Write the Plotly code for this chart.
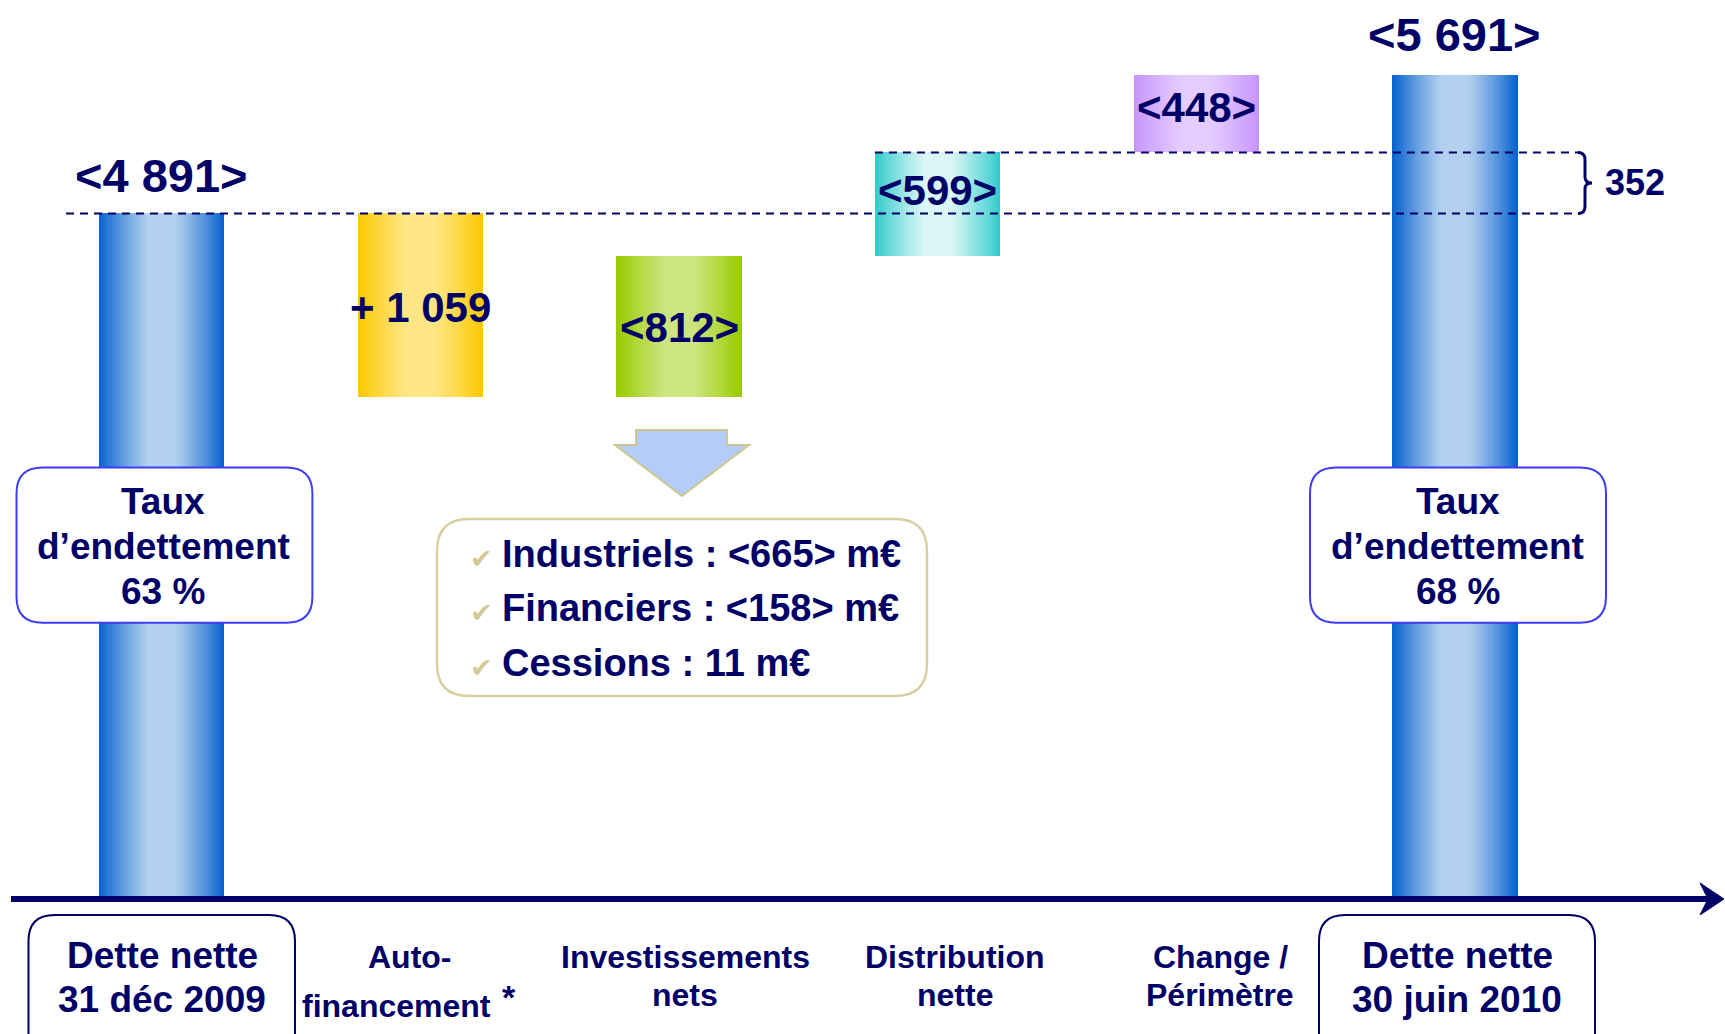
import plotly.graph_objects as go

# ---------------- data ----------------
CATEGORY_LINES = [
    ["Dette nette", "31 déc 2009"],
    ["Auto-", "financement"],
    ["Investissements", "nets"],
    ["Distribution", "nette"],
    ["Change /", "Périmètre"],
    ["Dette nette", "30 juin 2010"],
]
NET_DEBT_OPEN = 4891            # m€, 31 déc 2009
NET_DEBT_CLOSE = 5691           # m€, 30 juin 2010
DEBT_CHANGES = [-1059, 812, 599, 448]   # effect of each step on net debt
GEARING_PCT = [63, 68]
INVEST_ITEMS = ["Industriels", "Financiers", "Cessions"]
INVEST_VALUES = [-665, -158, 11]

# ---------------- derived ----------------
levels = [NET_DEBT_OPEN]
for c in DEBT_CHANGES:
    levels.append(levels[-1] + c)

n = len(CATEGORY_LINES)
X = list(range(n))
bar_base = [0] + [min(levels[i], levels[i + 1]) for i in range(len(DEBT_CHANGES))] + [0]
bar_height = [NET_DEBT_OPEN] + [abs(c) for c in DEBT_CHANGES] + [NET_DEBT_CLOSE]


def thousands(v):
    return f"{v:,}".replace(",", " ")


value_text = ([f"<{thousands(NET_DEBT_OPEN)}>"]
              + [("+ " + thousands(-c)) if c < 0 else f"<{thousands(c)}>" for c in DEBT_CHANGES]
              + [f"<{thousands(NET_DEBT_CLOSE)}>"])

# ---------------- geometry / style ----------------
W, H = 1725, 1034
PLOT_BOTTOM_PX = 897
X_RANGE = [-0.6252, 6.0441]
Y_RANGE = [945, 6123]
BAR_W = 0.485
NAVY = "#000066"
FONT = "Liberation Sans, Arial, sans-serif"

EDGE = ["#0a64cf", "#fdc900", "#99cc00", "#33cccc", "#c796fc", "#0a64cf"]
CENTER = ["#b3d0ef", "#fee685", "#cde581", "#dcf6f6", "#e4ccff", "#b3d0ef"]


def hex2rgb(h):
    h = h.lstrip("#")
    return tuple(int(h[i:i + 2], 16) for i in (0, 2, 4))


def mix(c1, c2, t):
    a, b = hex2rgb(c1), hex2rgb(c2)
    return "rgb(%d,%d,%d)" % tuple(round(a[k] + (b[k] - a[k]) * t) for k in range(3))


def ypx(v):   # data y -> pixel
    return (Y_RANGE[1] - v) / (Y_RANGE[1] - Y_RANGE[0]) * PLOT_BOTTOM_PX


def P(x, y):
    return f"{x / W:.5f},{1 - y / H:.5f}"


def rrect(x0, y0, x1, y1, r):
    return (f"M{P(x0 + r, y0)} L{P(x1 - r, y0)} Q{P(x1, y0)} {P(x1, y0 + r)} "
            f"L{P(x1, y1 - r)} Q{P(x1, y1)} {P(x1 - r, y1)} L{P(x0 + r, y1)} "
            f"Q{P(x0, y1)} {P(x0, y1 - r)} L{P(x0, y0 + r)} Q{P(x0, y0)} {P(x0 + r, y0)} Z")


fig = go.Figure()

# gradient bars : stacked overlay of narrowing bars
NSTEP = 30
for i in range(NSTEP):
    frac = 1 - i / NSTEP
    t = max(0.0, (frac - 0.22) / 0.78) ** 1.15
    colors = [mix(CENTER[j], EDGE[j], t) for j in range(n)]
    fig.add_trace(go.Bar(
        x=X, y=bar_height, base=bar_base, width=BAR_W * frac,
        marker=dict(color=colors, line=dict(width=0), opacity=1),
        hoverinfo="skip", showlegend=False))

shapes = []
ann = []


def text(x, y, s, size, xref="paper", yref="paper", xanchor="center", yanchor="middle",
         color=NAVY, xshift=0, yshift=0, family=FONT):
    ann.append(dict(x=x, y=y, xref=xref, yref=yref, text=s, showarrow=False,
                    xanchor=xanchor, yanchor=yanchor, xshift=xshift, yshift=yshift,
                    font=dict(family=family, size=size, color=color)))


# dashed reference lines
right_px = 1580
shapes.append(dict(type="line", xref="paper", yref="y", x0=66 / W, x1=right_px / W,
                   y0=levels[0], y1=levels[0], layer="above",
                   line=dict(color=NAVY, width=2, dash="8px,6px")))
shapes.append(dict(type="line", xref="x", yref="y", x0=3 - BAR_W / 2,
                   x1=X_RANGE[0] + right_px / W * (X_RANGE[1] - X_RANGE[0]),
                   y0=levels[3], y1=levels[3], layer="above",
                   line=dict(color=NAVY, width=2, dash="8px,6px")))

# brace
yt, yb = ypx(levels[3]), ypx(levels[0])
ym = (yt + yb) / 2
bx = 1578
brace = (f"M{P(bx, yt)} Q{P(bx + 7, yt)} {P(bx + 7, yt + 7)} L{P(bx + 7, ym - 6)} "
         f"Q{P(bx + 7, ym)} {P(bx + 14, ym)} Q{P(bx + 7, ym)} {P(bx + 7, ym + 6)} "
         f"L{P(bx + 7, yb - 7)} Q{P(bx + 7, yb)} {P(bx, yb)}")
shapes.append(dict(type="path", xref="paper", yref="paper", path=brace,
                   line=dict(color=NAVY, width=3), layer="above"))
text(1635 / W, 1 - ym / H, f"<b>{levels[3] - levels[0]}</b>", 36)

# value labels
text(0, NET_DEBT_OPEN, f"<b>{value_text[0]}</b>", 47, xref="x", yref="y", yshift=38)
text(n - 1, NET_DEBT_CLOSE, f"<b>{value_text[-1]}</b>", 47, xref="x", yref="y", yshift=40)
delta_shift = [-2, -1, 14, 6]
for k in range(len(DEBT_CHANGES)):
    i = k + 1
    text(i, bar_base[i] + bar_height[i] / 2, f"<b>{value_text[i]}</b>", 42,
         xref="x", yref="y", yshift=delta_shift[k])

# gearing boxes
for idx, (cx, x0, x1) in zip([0, 1], [(163, 16.5, 312.4), (1457.6, 1310, 1606)]):
    shapes.append(dict(type="path", xref="paper", yref="paper", layer="above",
                       path=rrect(x0, 467.5, x1, 622.7, 26),
                       fillcolor="white", line=dict(color="#3d3df5", width=2)))
    for ln, yy in zip(["Taux", "d’endettement", f"{GEARING_PCT[idx]} %"], [501.6, 546.7, 591.8]):
        text(cx / W, 1 - yy / H, f"<b>{ln}</b>", 37)

# block arrow under investment bar
arrow_pts = [(636, 430), (727, 430), (727, 445), (749, 445), (682, 496), (615, 445), (636, 445)]
shapes.append(dict(type="path", xref="paper", yref="paper", layer="above",
                   path="M" + " L".join(P(a, b) for a, b in arrow_pts) + " Z",
                   fillcolor="#b3cdf8", line=dict(color="#cfc68e", width=2)))

# investment detail box
shapes.append(dict(type="path", xref="paper", yref="paper", layer="above",
                   path=rrect(437, 519, 927, 696, 32),
                   fillcolor="white", line=dict(color="#d8d0a0", width=2.5)))


def meur(v):
    return f"<{thousands(-v)}> m€" if v < 0 else f"{thousands(v)} m€"


for item, val, yy in zip(INVEST_ITEMS, INVEST_VALUES, [554, 608, 663]):
    text(482 / W, 1 - (yy + 4) / H, "<b>✔</b>", 27, color="#d2ca97", family="DejaVu Sans")
    text(500 / W, 1 - yy / H, f"<b>{item} : {meur(val)}</b>", 38, xanchor="left")

# x axis line with arrow
AX_Y = 899
shapes.append(dict(type="line", xref="paper", yref="paper", x0=11 / W, x1=1708 / W,
                   y0=1 - AX_Y / H, y1=1 - AX_Y / H, line=dict(color=NAVY, width=6), layer="above"))
head = [(1724, AX_Y), (1700, AX_Y - 16), (1708, AX_Y), (1700, AX_Y + 16)]
shapes.append(dict(type="path", xref="paper", yref="paper", layer="above",
                   path="M" + " L".join(P(a, b) for a, b in head) + " Z",
                   fillcolor=NAVY, line=dict(color=NAVY, width=1)))

# category labels
for bx0, bx1 in [(28.5, 295), (1319, 1595)]:
    shapes.append(dict(type="path", xref="paper", yref="paper", layer="above",
                       path=rrect(bx0, 915, bx1, 1060, 26),
                       fillcolor="rgba(0,0,0,0)", line=dict(color=NAVY, width=2)))
for i, cx in [(0, 162), (n - 1, 1457)]:
    text(cx / W, 1 - 955 / H, f"<b>{CATEGORY_LINES[i][0]}</b>", 37)
    text(cx / W, 1 - 999 / H, f"<b>{CATEGORY_LINES[i][1]}</b>", 37)

label_x = [None, 410, 685, 955, 1220, None]
for i in range(1, n - 1):
    l1, l2 = CATEGORY_LINES[i]
    text(label_x[i] / W, 1 - 957 / H, f"<b>{l1}</b>", 32)
    if i == 1:
        text(396 / W, 1 - 1006 / H, f"<b>{l2}</b>", 32)
        text(509 / W, 1 - 997 / H, "<b>*</b>", 34)
    else:
        text(label_x[i] / W, 1 - 995 / H, f"<b>{l2}</b>", 32)

fig.update_layout(
    width=W, height=H, autosize=False,
    margin=dict(l=0, r=0, t=0, b=0),
    paper_bgcolor="white", plot_bgcolor="white",
    barmode="overlay", bargap=0,
    xaxis=dict(range=X_RANGE, visible=False, fixedrange=True),
    yaxis=dict(range=Y_RANGE, visible=False, fixedrange=True,
               domain=[1 - PLOT_BOTTOM_PX / H, 1]),
    shapes=shapes, annotations=ann, showlegend=False,
)

fig.write_html("out.html", config={"displayModeBar": False},
               post_script="document.body.style.margin='0';document.body.style.overflow='hidden';")
